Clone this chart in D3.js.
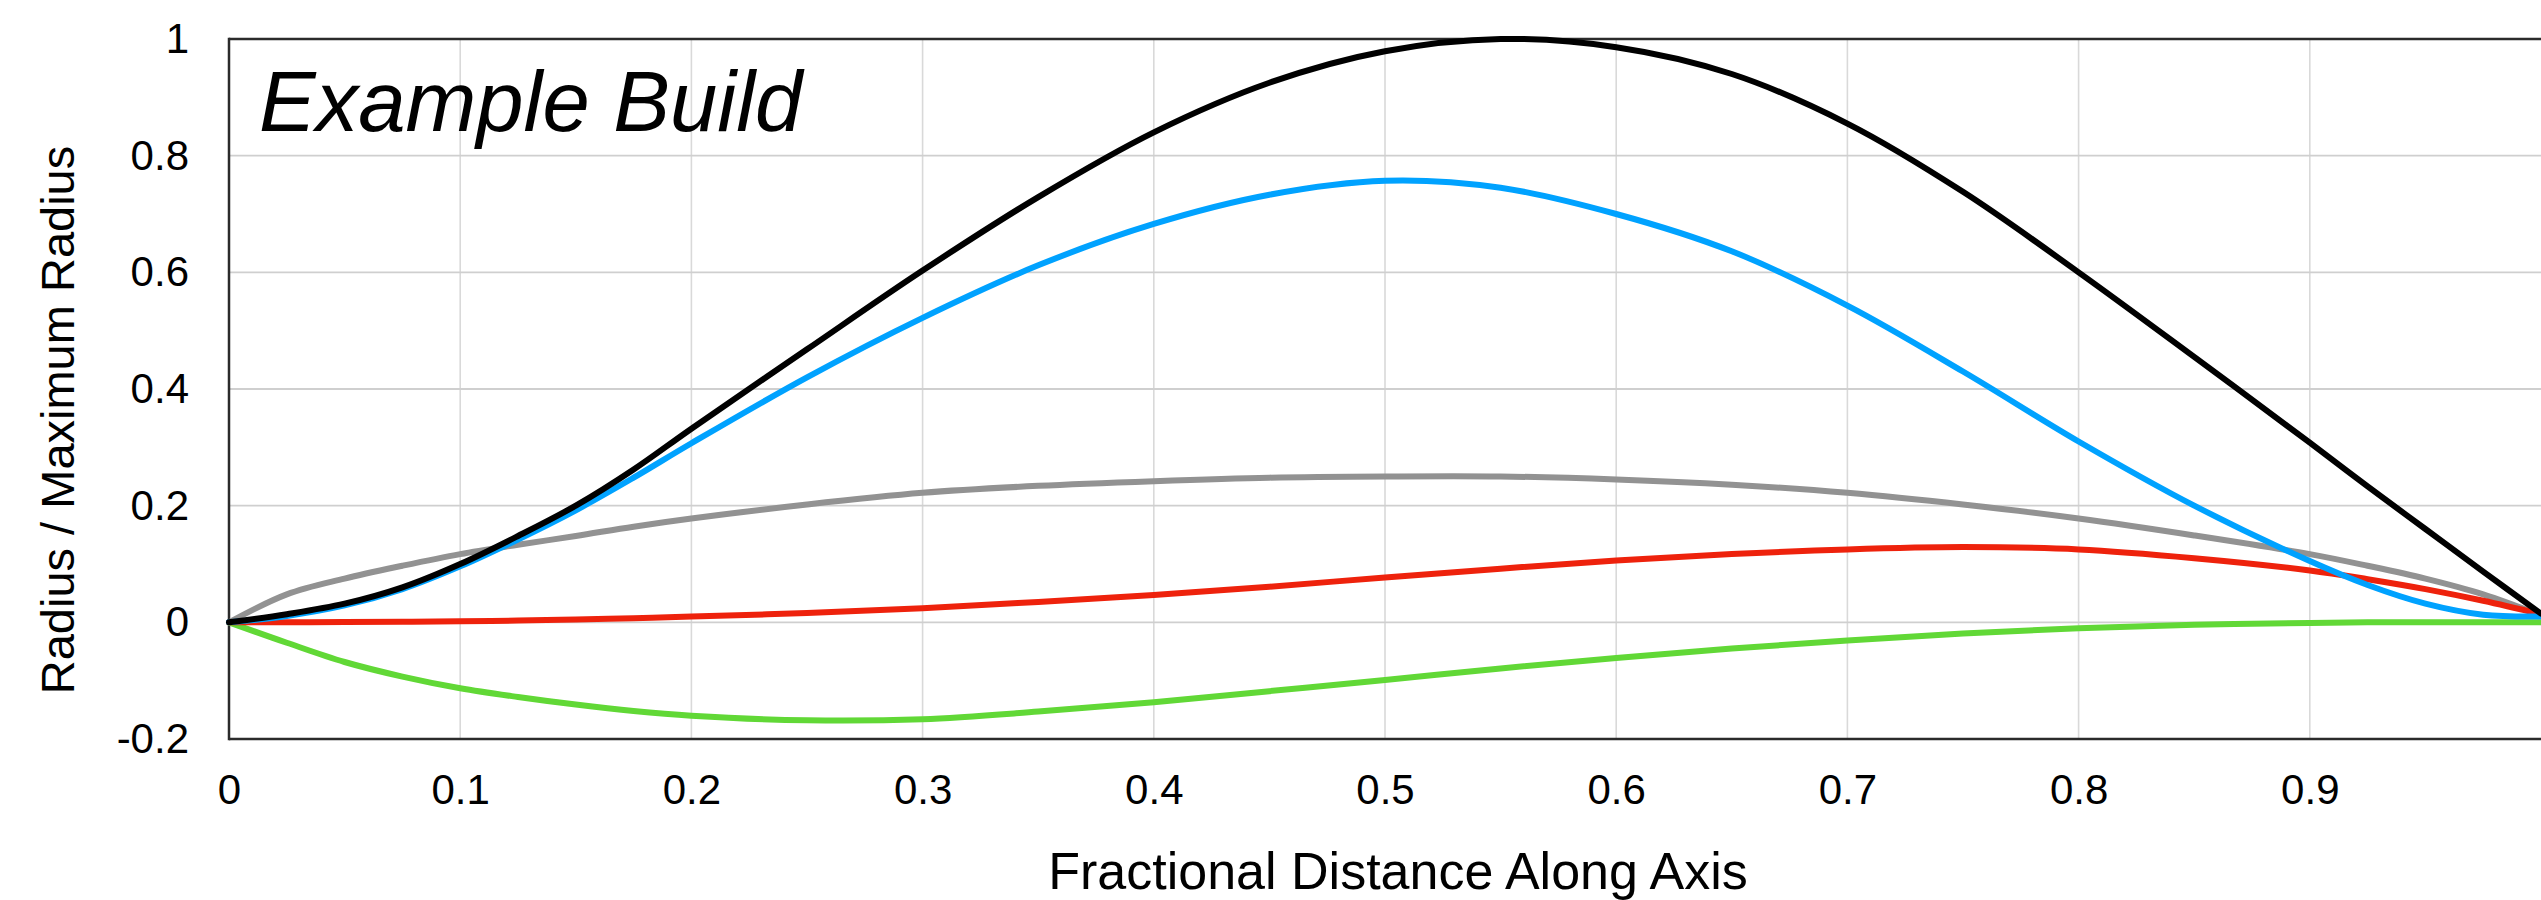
<!DOCTYPE html>
<html>
<head>
<meta charset="utf-8">
<script src="https://cdn.jsdelivr.net/npm/d3@7"></script>
<style>
  html, body { margin: 0; padding: 0; background: #ffffff; }
  svg { display: block; font-family: "Liberation Sans", Arial, Helvetica, sans-serif; }
</style>
</head>
<body>
<svg id="chart" width="2541" height="900"></svg>
<script>
// Sample positions along the axis (fraction of total length)
const positions = [0, 0.025, 0.05, 0.075, 0.1, 0.125, 0.15, 0.175, 0.2, 0.25, 0.3, 0.35, 0.4,
                   0.45, 0.5, 0.55, 0.6, 0.65, 0.7, 0.75, 0.8, 0.85, 0.9, 0.925, 0.95, 0.975, 1.0];

// Radius / maximum radius for each component and the combined profile
const totalProfile = [0, 0.014, 0.032, 0.06, 0.1, 0.148, 0.2, 0.262, 0.332, 0.468, 0.603, 0.729, 0.84,
                      0.925, 0.979, 1.0, 0.986, 0.94, 0.855, 0.738, 0.6, 0.455, 0.308, 0.233, 0.16, 0.087, 0.015];
const blueComponent = [0, 0.011, 0.029, 0.057, 0.096, 0.142, 0.192, 0.248, 0.307, 0.42, 0.522, 0.612, 0.683,
                       0.733, 0.757, 0.745, 0.70, 0.636, 0.543, 0.43, 0.31, 0.2, 0.105, 0.064, 0.032, 0.013, 0.01];
const grayComponent = [0, 0.048, 0.075, 0.097, 0.117, 0.133, 0.148, 0.164, 0.178, 0.202, 0.222, 0.234, 0.242,
                       0.248, 0.25, 0.25, 0.245, 0.236, 0.222, 0.202, 0.178, 0.149, 0.117, 0.097, 0.075, 0.048, 0.012];
const redComponent = [0, 0, 0.0005, 0.001, 0.002, 0.003, 0.005, 0.007, 0.01, 0.016, 0.024, 0.035, 0.047,
                      0.061, 0.077, 0.092, 0.106, 0.117, 0.125, 0.129, 0.125, 0.11, 0.089, 0.074, 0.057, 0.037, 0.014];
const greenComponent = [0, -0.035, -0.068, -0.093, -0.113, -0.128, -0.141, -0.152, -0.16, -0.168, -0.166, -0.153, -0.137,
                        -0.118, -0.099, -0.079, -0.061, -0.045, -0.031, -0.019, -0.01, -0.004, -0.001, 0, 0, 0, 0];

// Axis ticks
const xTickValues = [0, 0.1, 0.2, 0.3, 0.4, 0.5, 0.6, 0.7, 0.8, 0.9];
const xGridValues = [0.1, 0.2, 0.3, 0.4, 0.5, 0.6, 0.7, 0.8, 0.9];
const yTickValues = [-0.2, 0, 0.2, 0.4, 0.6, 0.8, 1];

const chartTitle = "Example Build";
const xAxisTitle = "Fractional Distance Along Axis";
const yAxisTitle = "Radius / Maximum Radius";

// Series drawn back to front
const series = [
  { name: "gray",  values: grayComponent,  color: "#929292" },
  { name: "green", values: greenComponent, color: "#61D836" },
  { name: "red",   values: redComponent,   color: "#EE220C" },
  { name: "blue",  values: blueComponent,  color: "#00A2FF" },
  { name: "total", values: totalProfile,   color: "#000000" }
];

const svg = d3.select("#chart");
const plot = { left: 229, right: 2541, top: 39, bottom: 739 };

const x = d3.scaleLinear().domain([0, 1]).range([plot.left, plot.right]);
const y = d3.scaleLinear().domain([-0.2, 1]).range([plot.bottom, plot.top]);

// Grid
const grid = svg.append("g");
grid.selectAll("line.v").data(xGridValues).join("line")
  .attr("class", "v")
  .attr("x1", d => x(d)).attr("x2", d => x(d))
  .attr("y1", plot.top).attr("y2", plot.bottom)
  .attr("stroke", "#d9d9d9").attr("stroke-width", 1.6);
grid.selectAll("line.h").data(yTickValues.filter(d => d > -0.2 && d < 1)).join("line")
  .attr("class", "h")
  .attr("x1", plot.left).attr("x2", plot.right)
  .attr("y1", d => y(d)).attr("y2", d => y(d))
  .attr("stroke", "#cfcfcf").attr("stroke-width", 1.8);

// Frame (left, top, bottom)
const frame = svg.append("g").attr("stroke", "#2b2b2b").attr("stroke-width", 2.5);
frame.append("line").attr("x1", plot.left).attr("x2", plot.left).attr("y1", plot.top - 1.2).attr("y2", plot.bottom + 1.2);
frame.append("line").attr("x1", plot.left).attr("x2", plot.right).attr("y1", plot.top).attr("y2", plot.top);
frame.append("line").attr("x1", plot.left).attr("x2", plot.right).attr("y1", plot.bottom).attr("y2", plot.bottom);

// Axes (labels only)
const fmt = d => String(+d.toFixed(1));
const xAxis = svg.append("g")
  .attr("transform", `translate(0,${plot.bottom})`)
  .call(d3.axisBottom(x).tickValues(xTickValues).tickSize(0).tickPadding(35).tickFormat(fmt));
const yAxis = svg.append("g")
  .attr("transform", `translate(${plot.left},0)`)
  .call(d3.axisLeft(y).tickValues(yTickValues).tickSize(0).tickPadding(40).tickFormat(fmt));
[xAxis, yAxis].forEach(a => {
  a.select(".domain").remove();
  a.selectAll("text").attr("font-size", 42).attr("fill", "#000")
    .attr("font-family", "'Liberation Sans', Arial, Helvetica, sans-serif");
});

// Lines
const line = d3.line()
  .x((d, i) => x(positions[i]))
  .y(d => y(d))
  .curve(d3.curveCatmullRom.alpha(0.5));

svg.append("g").selectAll("path").data(series).join("path")
  .attr("d", d => line(d.values))
  .attr("fill", "none")
  .attr("stroke", d => d.color)
  .attr("stroke-width", 6)
  .attr("stroke-linejoin", "round")
  .attr("stroke-linecap", "round");

// Titles
svg.append("text")
  .attr("x", 259).attr("y", 131)
  .attr("font-size", 85).attr("font-style", "italic")
  .text(chartTitle);

svg.append("text")
  .attr("x", 1398).attr("y", 889)
  .attr("text-anchor", "middle")
  .attr("font-size", 52)
  .text(xAxisTitle);

svg.append("text")
  .attr("transform", "translate(74,420) rotate(-90)")
  .attr("text-anchor", "middle")
  .attr("font-size", 47)
  .text(yAxisTitle);
</script>
</body>
</html>
